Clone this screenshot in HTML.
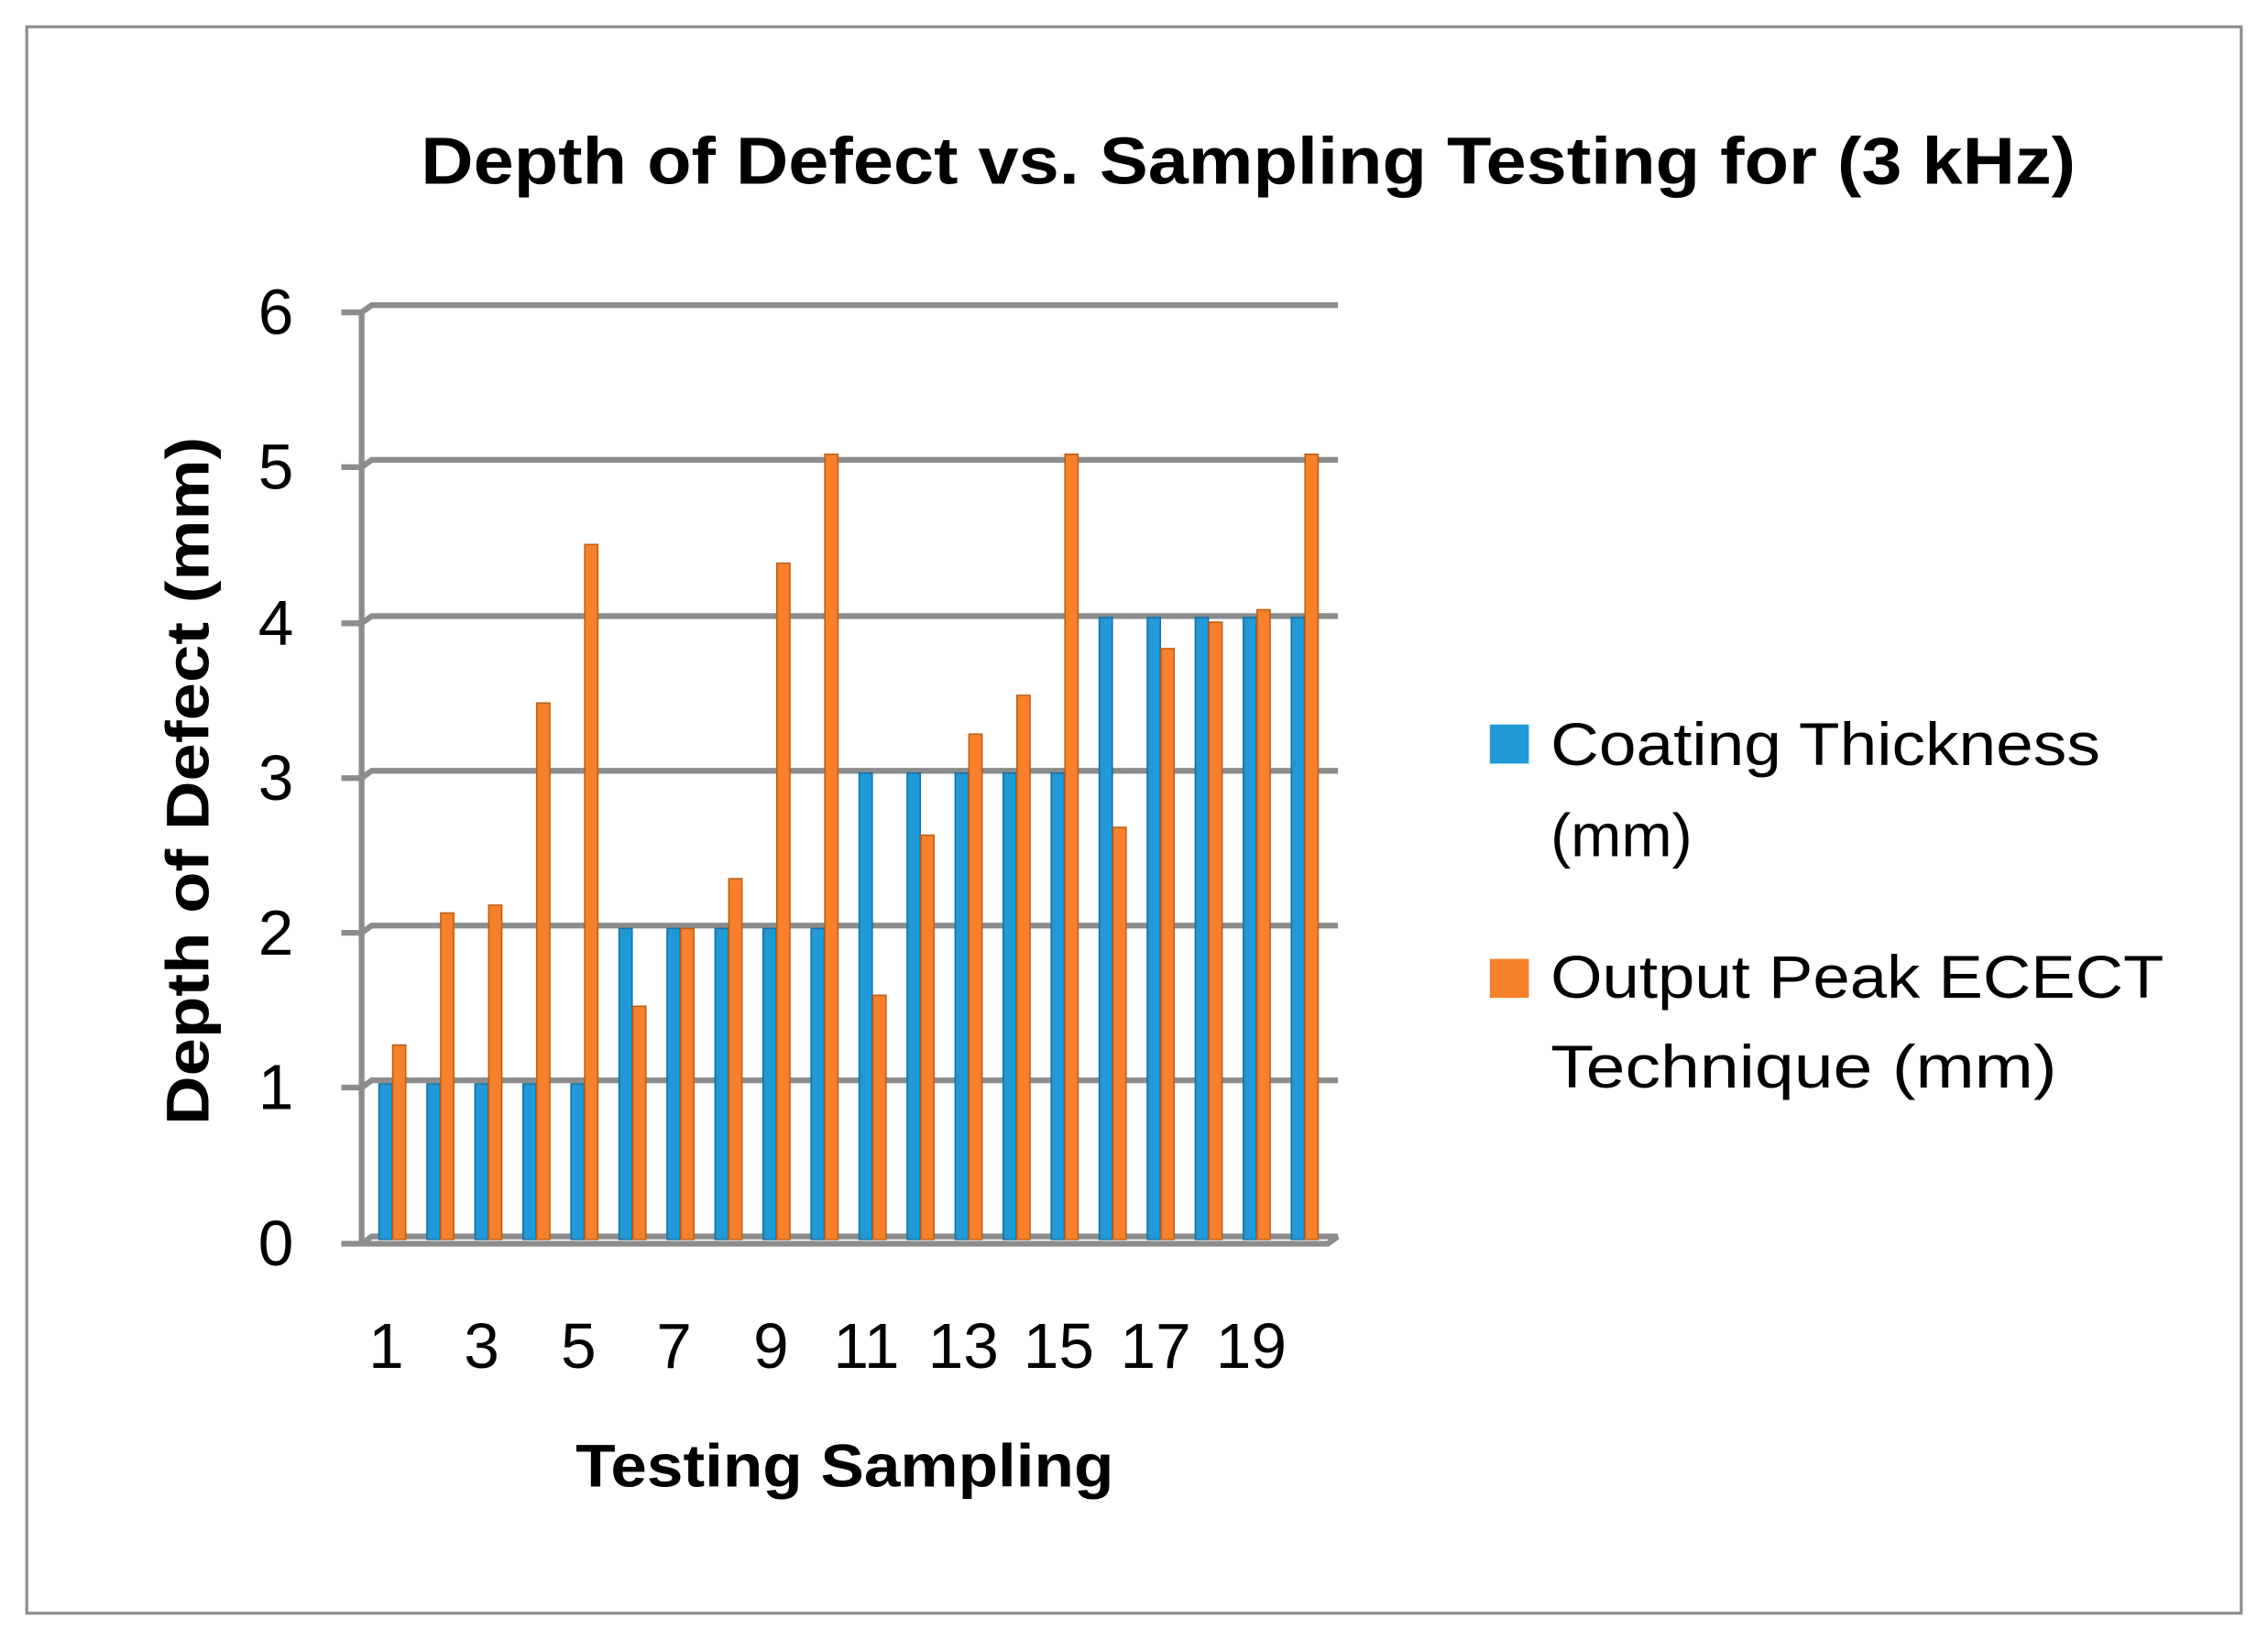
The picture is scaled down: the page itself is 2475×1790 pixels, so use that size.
<!DOCTYPE html>
<html><head><style>html,body{margin:0;padding:0;background:#fff}svg{display:block}</style></head>
<body>
<svg width="2475" height="1790" viewBox="0 0 1568 1134" xmlns="http://www.w3.org/2000/svg" font-family="Liberation Sans, sans-serif">
<rect x="0" y="0" width="1568" height="1134" fill="#fff"/>
<rect x="18.5" y="18.5" width="1531" height="1097" fill="none" stroke="#8c8c8c" stroke-width="2"/>
<text x="863" y="127" font-size="46" font-weight="bold" text-anchor="middle" textLength="1144" lengthAdjust="spacingAndGlyphs">Depth of Defect vs. Sampling Testing for (3 kHz)</text>
<g stroke="#8c8c8c" stroke-width="4" fill="none">
<path d="M250 216 L250 860"/>
<path d="M236 216 H250 M236 323 H250 M236 431 H250 M236 538 H250 M236 645 H250 M236 752 H250 M236 860 H250"/>
<path d="M250 216 L257 211 H925 M250 323 L257 318 H925 M250 431 L257 426 H925 M250 538 L257 533 H925 M250 645 L257 640 H925 M250 752 L257 747 H925"/>
<path d="M250 860 L257 855 H925 M250 860 H918 L925 855"/>
</g>
<g fill="#1f9ad6" stroke="#1570a0" stroke-width="1">
<rect x="262" y="749.5" width="9" height="107.5"/>
<rect x="295.2" y="749.5" width="9" height="107.5"/>
<rect x="328.4" y="749.5" width="9" height="107.5"/>
<rect x="361.6" y="749.5" width="9" height="107.5"/>
<rect x="394.8" y="749.5" width="9" height="107.5"/>
<rect x="428" y="642" width="9" height="215"/>
<rect x="461.2" y="642" width="9" height="215"/>
<rect x="494.4" y="642" width="9" height="215"/>
<rect x="527.6" y="642" width="9" height="215"/>
<rect x="560.8" y="642" width="9" height="215"/>
<rect x="594" y="534.5" width="9" height="322.5"/>
<rect x="627.2" y="534.5" width="9" height="322.5"/>
<rect x="660.4" y="534.5" width="9" height="322.5"/>
<rect x="693.6" y="534.5" width="9" height="322.5"/>
<rect x="726.8" y="534.5" width="9" height="322.5"/>
<rect x="760" y="427" width="9" height="430"/>
<rect x="793.2" y="427" width="9" height="430"/>
<rect x="826.4" y="427" width="9" height="430"/>
<rect x="859.6" y="427" width="9" height="430"/>
<rect x="892.8" y="427" width="9" height="430"/>
</g>
<g fill="#f7812a" stroke="#c05e14" stroke-width="1">
<rect x="271.5" y="722.6" width="9" height="134.4"/>
<rect x="304.7" y="631.3" width="9" height="225.7"/>
<rect x="337.9" y="625.9" width="9" height="231.1"/>
<rect x="371.1" y="486.1" width="9" height="370.9"/>
<rect x="404.3" y="376.5" width="9" height="480.5"/>
<rect x="437.5" y="695.8" width="9" height="161.2"/>
<rect x="470.7" y="642" width="9" height="215"/>
<rect x="503.9" y="607.6" width="9" height="249.4"/>
<rect x="537.1" y="389.4" width="9" height="467.6"/>
<rect x="570.3" y="314.1" width="9" height="542.9"/>
<rect x="603.5" y="688.2" width="9" height="168.8"/>
<rect x="636.7" y="577.5" width="9" height="279.5"/>
<rect x="669.9" y="507.6" width="9" height="349.4"/>
<rect x="703.1" y="480.8" width="9" height="376.2"/>
<rect x="736.3" y="314.1" width="9" height="542.9"/>
<rect x="769.5" y="572.1" width="9" height="284.9"/>
<rect x="802.7" y="448.5" width="9" height="408.5"/>
<rect x="835.9" y="430.2" width="9" height="426.8"/>
<rect x="869.1" y="421.6" width="9" height="435.4"/>
<rect x="902.3" y="314.1" width="9" height="542.9"/>
</g>
<g font-size="44" text-anchor="end">
<text x="203" y="231">6</text><text x="203" y="338">5</text><text x="203" y="446">4</text>
<text x="203" y="553">3</text><text x="203" y="660">2</text><text x="203" y="767">1</text><text x="203" y="875">0</text>
</g>
<g font-size="44" text-anchor="middle">
<text x="267" y="946">1</text><text x="333" y="946">3</text><text x="400" y="946">5</text><text x="466" y="946">7</text><text x="533" y="946">9</text>
<text x="599" y="946">11</text><text x="666" y="946">13</text><text x="732" y="946">15</text><text x="799" y="946">17</text><text x="865" y="946">19</text>
</g>
<text x="584" y="1028" font-size="42" font-weight="bold" text-anchor="middle" textLength="372" lengthAdjust="spacingAndGlyphs">Testing Sampling</text>
<text transform="translate(144,540) rotate(-90)" font-size="42" font-weight="bold" text-anchor="middle" textLength="476" lengthAdjust="spacingAndGlyphs">Depth of Defect (mm)</text>
<rect x="1030" y="501" width="27" height="27" fill="#1f9ad6"/>
<rect x="1030" y="663" width="27" height="27" fill="#f7812a"/>
<g font-size="42">
<text x="1072" y="529" textLength="380" lengthAdjust="spacingAndGlyphs">Coating Thickness</text>
<text x="1072" y="592">(mm)</text>
<text x="1072" y="690" textLength="424" lengthAdjust="spacingAndGlyphs">Output Peak  ECECT</text>
<text x="1072" y="752" textLength="350" lengthAdjust="spacingAndGlyphs">Technique (mm)</text>
</g>
</svg>
</body></html>
